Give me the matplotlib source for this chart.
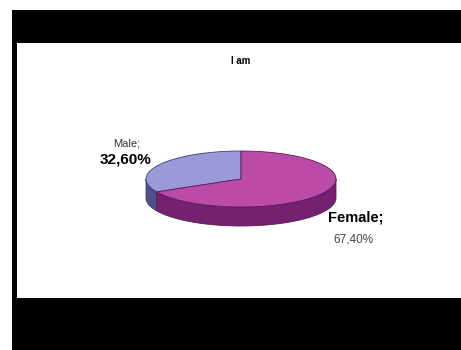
import numpy as np
import matplotlib.pyplot as plt
from matplotlib.patches import Polygon, Rectangle

plt.rcParams['font.family'] = ['Liberation Sans', 'DejaVu Sans']

# dados
labels = ["Male", "Female"]
values = [32.60, 67.40]
pct_text = ["32,60%", "67,40%"]
title = "I am"

top_colors = ["#9a9ad8", "#bc4aa8"]
side_colors = ["#4f4f8c", "#742270"]
edge_colors = ["#3c3c70", "#5a1a58"]

fig = plt.figure(figsize=(4.61, 3.5), dpi=100)
ax = fig.add_axes([0, 0, 1, 1])
ax.set_xlim(0, 461)
ax.set_ylim(350, 0)
ax.axis("off")

# moldura preta
ax.add_patch(Rectangle((12, 10), 449, 33, color="black", lw=0))
ax.add_patch(Rectangle((12, 10), 5, 340, color="black", lw=0))
ax.add_patch(Rectangle((12, 298), 449, 52, color="black", lw=0))

# pizza 3d
cx, cy, rx, ry, depth = 241, 179, 95, 28, 19

def pt(t):
    return cx + rx * np.cos(np.radians(t)), cy - ry * np.sin(np.radians(t))

total = sum(values)
angulos = []
inicio = 90
for v in values:
    fim = inicio + 360 * v / total
    angulos.append((inicio, fim))
    inicio = fim

# laterais (so a metade da frente aparece)
for i, (a, b) in enumerate(angulos):
    for off in (0, 360, -360):
        lo = max(a + off, 180)
        hi = min(b + off, 360)
        if hi <= lo:
            continue
        t = np.linspace(lo, hi, 80)
        xs, ys = pt(t)
        pts = list(zip(xs, ys)) + list(zip(xs[::-1], ys[::-1] + depth))
        ax.add_patch(Polygon(pts, closed=True, fc=side_colors[i],
                             ec=edge_colors[i], lw=0.6))

# topo
for i, (a, b) in enumerate(angulos):
    t = np.linspace(a, b, 150)
    xs, ys = pt(t)
    pts = [(cx, cy)] + list(zip(xs, ys))
    ax.add_patch(Polygon(pts, closed=True, fc=top_colors[i],
                         ec=edge_colors[i], lw=0.6))

ax.text(241, 61, title, ha="center", va="center", fontsize=7,
        fontweight="bold")

# rotulos
ax.text(127, 143, labels[0] + ";", ha="center", va="center", fontsize=8,
        color="#333333")
ax.text(126, 159, pct_text[0], ha="center", va="center", fontsize=11,
        fontweight="bold")
ax.text(328, 217, labels[1] + ";", ha="left", va="center", fontsize=10.5,
        fontweight="bold")
ax.text(333, 239, pct_text[1], ha="left", va="center", fontsize=8.5,
        color="#444444")

fig.savefig("out.png", dpi=100)
